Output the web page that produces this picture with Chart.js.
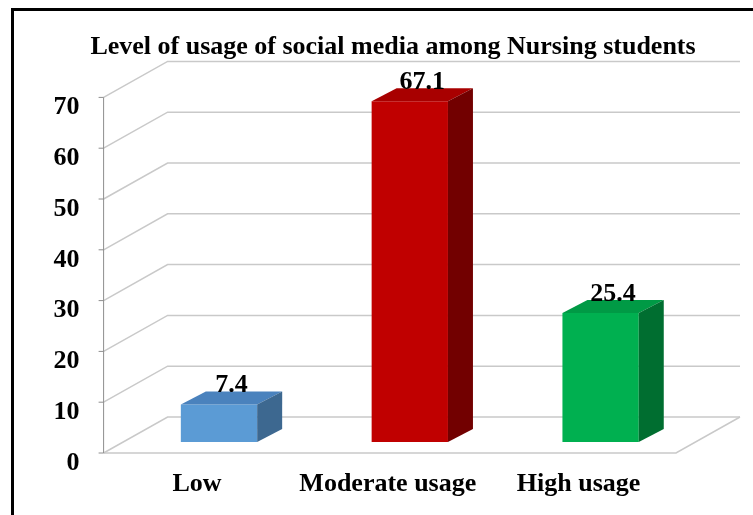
<!DOCTYPE html>
<html>
<head>
<meta charset="utf-8">
<script src="https://cdn.jsdelivr.net/npm/chart.js@4.4.1/dist/chart.umd.min.js"></script>
<style>
  html, body { margin: 0; padding: 0; background: #fff; }
  #wrap { position: relative; width: 753px; height: 515px; overflow: hidden; }
  #frame { position: absolute; left: 11px; top: 8px; width: 800px; height: 600px;
           border-top: 3px solid #000; border-left: 3px solid #000; pointer-events: none; }
</style>
</head>
<body>
<div id="wrap">
  <canvas id="chart" width="753" height="515"></canvas>
  <div id="frame"></div>
</div>
<script>
// data
const categories = ['Low', 'Moderate usage', 'High usage'];
const usage = [7.4, 67.1, 25.4];
const yTicks = [0, 10, 20, 30, 40, 50, 60, 70];

// colours: front face, top face, side face
const frontColors = ['#5b9bd5', '#c00000', '#00b050'];
const topColors = ['#4a82bd', '#a80000', '#009a45'];
const sideColors = ['#3d6890', '#720000', '#006e30'];

const SERIF = '"Liberation Serif", "Times New Roman", serif';

// 3D projection offsets (relative to the plane the bars stand on)
const FRONT = [-20, 11];
const BACK = [44, -25];
const BAR_DEPTH = [25, -13];

const depth3d = {
  id: 'depth3d',
  beforeDatasetsDraw(chart) {
    const { ctx, chartArea: a, scales: { y } } = chart;
    ctx.save();
    ctx.strokeStyle = '#c9c9c9';
    ctx.lineWidth = 1.5;
    yTicks.forEach(v => {
      const py = y.getPixelForValue(v);
      ctx.beginPath();
      ctx.moveTo(a.left + FRONT[0], py + FRONT[1]);
      ctx.lineTo(a.left + BACK[0], py + BACK[1]);
      ctx.lineTo(a.right + BACK[0], py + BACK[1]);
      ctx.stroke();
    });
    // floor front and right edges
    const p0 = y.getPixelForValue(0);
    ctx.beginPath();
    ctx.moveTo(a.left + FRONT[0], p0 + FRONT[1]);
    ctx.lineTo(a.right + FRONT[0], p0 + FRONT[1]);
    ctx.lineTo(a.right + BACK[0], p0 + BACK[1]);
    ctx.stroke();
    // left axis line with small ticks
    const top = y.getPixelForValue(yTicks[yTicks.length - 1]);
    ctx.strokeStyle = '#8e8e8e';
    ctx.lineWidth = 1;
    ctx.beginPath();
    ctx.moveTo(a.left + FRONT[0], top + FRONT[1]);
    ctx.lineTo(a.left + FRONT[0], p0 + FRONT[1]);
    yTicks.forEach(v => {
      const py = y.getPixelForValue(v) + FRONT[1];
      ctx.moveTo(a.left + FRONT[0] - 5, py);
      ctx.lineTo(a.left + FRONT[0], py);
    });
    ctx.stroke();
    ctx.restore();
  },
  afterDatasetsDraw(chart) {
    const { ctx } = chart;
    const meta = chart.getDatasetMeta(0);
    ctx.save();
    meta.data.forEach((bar, i) => {
      const l = bar.x - bar.width / 2, r = bar.x + bar.width / 2;
      const t = bar.y, b = bar.base;
      const [dx, dy] = BAR_DEPTH;
      // top face
      ctx.fillStyle = topColors[i];
      ctx.beginPath();
      ctx.moveTo(l, t);
      ctx.lineTo(l + dx, t + dy);
      ctx.lineTo(r + dx, t + dy);
      ctx.lineTo(r, t);
      ctx.closePath();
      ctx.fill();
      // side face
      ctx.fillStyle = sideColors[i];
      ctx.beginPath();
      ctx.moveTo(r, t);
      ctx.lineTo(r + dx, t + dy);
      ctx.lineTo(r + dx, b + dy);
      ctx.lineTo(r, b);
      ctx.closePath();
      ctx.fill();
      // value label
      ctx.fillStyle = '#000';
      ctx.font = 'bold 26px ' + SERIF;
      ctx.textAlign = 'center';
      ctx.textBaseline = 'alphabetic';
      ctx.fillText(String(usage[i]), bar.x + dx / 2, t + dy + 1);
    });
    ctx.restore();
  }
};

new Chart(document.getElementById('chart'), {
  type: 'bar',
  data: {
    labels: categories,
    datasets: [{
      data: usage,
      backgroundColor: frontColors,
      borderWidth: 0,
      categoryPercentage: 1,
      barPercentage: 0.4
    }]
  },
  options: {
    responsive: false,
    animation: false,
    layout: { padding: { left: 40, right: 7, top: 32, bottom: 0 } },
    plugins: {
      legend: { display: false },
      tooltip: { enabled: false },
      title: {
        display: true,
        text: 'Level of usage of social media among Nursing students',
        color: '#000',
        font: { family: SERIF, size: 26, weight: 'bold', lineHeight: 1.2 },
        padding: { top: 0, bottom: 23.2 }
      }
    },
    scales: {
      x: {
        grid: { display: false, drawTicks: false },
        border: { display: false },
        ticks: {
          color: '#000',
          font: { family: SERIF, size: 26, weight: 'bold' },
          padding: 27,
          labelOffset: -22,
          maxRotation: 0
        },
        afterFit: s => { s.height = 73; }
      },
      y: {
        min: 0,
        max: 70,
        afterBuildTicks: s => { s.ticks = yTicks.map(v => ({ value: v })); },
        grid: { display: false, drawTicks: false },
        border: { display: false },
        ticks: {
          color: '#000',
          font: { family: SERIF, size: 26, weight: 'bold' },
          padding: 44,
          labelOffset: 21
        },
        afterFit: s => { s.width = 83.6; }
      },
      // empty spacer on the right (keeps the plot clear of the edge)
      spacer: {
        type: 'linear',
        position: 'right',
        display: true,
        grid: { display: false, drawTicks: false },
        border: { display: false },
        ticks: { display: false },
        afterFit: s => { s.width = 50; }
      }
    }
  },
  plugins: [depth3d]
});
</script>
</body>
</html>
